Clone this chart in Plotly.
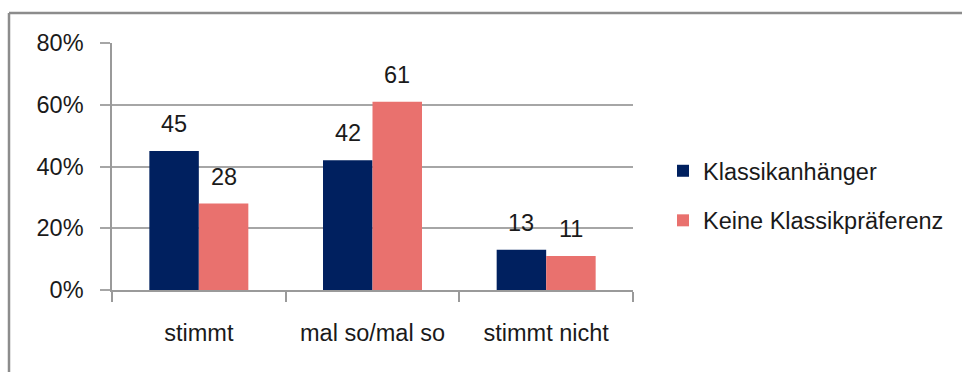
import plotly.graph_objects as go

categories = ["stimmt", "mal so/mal so", "stimmt nicht"]
series_names = ["Klassikanhänger", "Keine Klassikpräferenz"]
klassik = [45, 42, 13]
keine = [28, 61, 11]
y_ticks = [0, 20, 40, 60, 80]
y_tick_labels = ["0%", "20%", "40%", "60%", "80%"]

colors = ["#00205F", "#E9716E"]
FONT = "Liberation Sans"
FS = 23.5
W, H = 962, 372
ML, MR, MT, MB = 112, 329, 43, 82
plot_w = W - ML - MR
plot_h = H - MT - MB
bargap = 0.43
bar_w = plot_w / len(categories) * (1 - bargap) / 2

fig = go.Figure()
for i, (name, vals) in enumerate(zip(series_names, [klassik, keine])):
    fig.add_trace(go.Bar(
        x=categories, y=vals, name=name,
        marker=dict(color=colors[i], line=dict(width=0)),
        legendgroup=name,
    ))
    for c, v in zip(categories, vals):
        fig.add_annotation(
            x=c, y=v, text=str(v), showarrow=False,
            xshift=(i - 0.5) * bar_w, yshift=27,
            yanchor="middle", xanchor="center",
            font=dict(family=FONT, size=FS, color="#1a1a1a"),
        )

fig.update_layout(
    width=W, height=H,
    margin=dict(l=ML, r=MR, t=MT, b=MB, pad=0),
    paper_bgcolor="white", plot_bgcolor="white",
    barmode="group", bargap=bargap, bargroupgap=0,
    font=dict(family=FONT, size=FS, color="#1a1a1a"),
    legend=dict(
        x=(663 - ML) / plot_w, y=(H - MB - 196) / plot_h,
        xanchor="left", yanchor="middle",
        font=dict(family=FONT, size=FS, color="#1a1a1a"),
        tracegroupgap=16, itemwidth=30,
        bgcolor="rgba(0,0,0,0)",
    ),
    xaxis=dict(
        showgrid=False, showline=True, linecolor="#9a9a9a", linewidth=2,
        ticks="outside", tickson="boundaries", ticklen=10, tickcolor="#9a9a9a",
        tickwidth=1.5, ticklabelstandoff=21, zeroline=False,
        tickfont=dict(family=FONT, size=FS, color="#1a1a1a"),
    ),
    yaxis=dict(
        range=[0, 80], tickvals=y_ticks, ticktext=y_tick_labels,
        showgrid=True, gridcolor="#a6a6a6", gridwidth=1.5,
        showline=True, linecolor="#9a9a9a", linewidth=1.5,
        ticks="outside", ticklen=10, tickcolor="#a6a6a6", tickwidth=1.5,
        ticklabelstandoff=12, zeroline=False,
        tickfont=dict(family=FONT, size=FS, color="#1a1a1a"),
    ),
)

# outer chart frame (left and top edges visible, rest cropped)
fx0 = (9 - ML) / plot_w
fy1 = (H - MB - 13) / plot_h
fig.add_shape(type="line", xref="paper", yref="paper",
              x0=fx0, x1=fx0, y0=-1, y1=fy1,
              line=dict(color="#8c8c8c", width=2.5))
fig.add_shape(type="line", xref="paper", yref="paper",
              x0=fx0, x1=2, y0=fy1, y1=fy1,
              line=dict(color="#8c8c8c", width=2.5))

fig.write_html("out.html")
